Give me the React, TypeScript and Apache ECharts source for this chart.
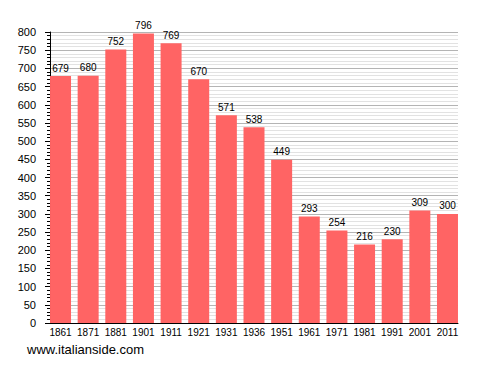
import React, { useEffect, useRef } from "react";
import * as echarts from "echarts";

const years = ["1861", "1871", "1881", "1901", "1911", "1921", "1931", "1936", "1951", "1961", "1971", "1981", "1991", "2001", "2011"];
const population = [679, 680, 752, 796, 769, 670, 571, 538, 449, 293, 254, 216, 230, 309, 300];
const yMin = 0;
const yMax = 800;
const yInterval = 50;
const sourceText = "www.italianside.com";

const FONT = "Liberation Sans";

export default function App() {
  const ref = useRef<HTMLDivElement>(null);
  useEffect(() => {
    if (!ref.current) return;
    const chart = echarts.init(ref.current, undefined, { renderer: "svg" });
    chart.setOption({
      animation: false,
      backgroundColor: "#ffffff",
      textStyle: { fontFamily: FONT },
      grid: [
        { left: 50, top: 32, width: 408, height: 291, containLabel: false },
        { left: 46.7, top: 32, width: 414.6, height: 291, containLabel: false },
      ],
      xAxis: [
        {
          type: "category",
          gridIndex: 0,
          data: years,
          axisLine: { show: true, lineStyle: { color: "#000", width: 1 } },
          axisTick: { show: false },
          axisLabel: { show: false },
          splitLine: { show: false },
        },
        {
          type: "category",
          gridIndex: 1,
          data: years,
          axisLine: { show: false },
          axisTick: { show: false },
          axisLabel: { show: true, color: "#000", fontSize: 10, fontFamily: FONT, margin: 4, interval: 0 },
          splitLine: { show: false },
        },
      ],
      yAxis: [
        {
          type: "value",
          gridIndex: 0,
          min: yMin,
          max: yMax,
          interval: yInterval,
          axisLine: { show: true, lineStyle: { color: "#000", width: 1 } },
          axisTick: { show: true, length: 5, lineStyle: { color: "#000" } },
          minorTick: { show: true, splitNumber: 5, length: 3, lineStyle: { color: "#000" } },
          axisLabel: { color: "#000", fontSize: 11, fontFamily: FONT, margin: 14 },
          splitLine: { show: true, lineStyle: { color: "#b4b4b4", width: 1 } },
          minorSplitLine: { show: true, lineStyle: { color: "#e2e2e2", width: 1 } },
        },
        {
          type: "value",
          gridIndex: 1,
          min: yMin,
          max: yMax,
          show: false,
          splitLine: { show: false },
        },
      ],
      series: [
        {
          type: "bar",
          xAxisIndex: 1,
          yAxisIndex: 1,
          data: population,
          barWidth: 21,
          itemStyle: { color: "#ff6464" },
          label: { show: true, position: "top", distance: 3, color: "#000", fontSize: 10, fontFamily: FONT },
          z: 5,
        },
      ],
      graphic: [
        {
          type: "text",
          left: 27,
          top: 343,
          style: { text: sourceText, fill: "#000", font: `13px '${FONT}'` },
        },
      ],
    });
    return () => chart.dispose();
  }, []);
  return <div ref={ref} style={{ width: 488, height: 373, margin: -8 }} />;
}
